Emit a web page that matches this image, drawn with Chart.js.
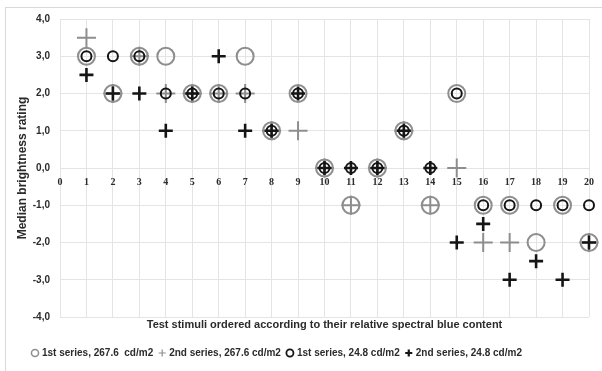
<!DOCTYPE html>
<html>
<head>
<meta charset="utf-8">
<script src="https://cdn.jsdelivr.net/npm/chart.js@4/dist/chart.umd.min.js"></script>
<style>
  html, body { margin: 0; padding: 0; background: #fff; }
  #wrap { width: 602px; height: 371px; position: relative; }
</style>
</head>
<body>
<div id="wrap"><canvas id="c"></canvas></div>
<script>
// Test stimuli, ordered by relative spectral blue content
const stimuli = [1, 2, 3, 4, 5, 6, 7, 8, 9, 10, 11, 12, 13, 14, 15, 16, 17, 18, 19, 20];

// Median brightness ratings per series
const firstSeriesHigh  = [3, 2, 3, 3, 2, 2, 3, 1, 2, 0, -1, 0, 1, -1, 2, -1, -1, -2, -1, -2];        // 267.6 cd/m2
const secondSeriesHigh = [3.5, 2, 3, 2, 2, 2, 2, 1, 1, 0, -1, 0, 1, -1, 0, -2, -2, null, null, -2];  // 267.6 cd/m2
const firstSeriesLow   = [3, 3, 3, 2, 2, 2, 2, 1, 2, 0, 0, 0, 1, 0, 2, -1, -1, -1, -1, -1];          // 24.8 cd/m2
const secondSeriesLow  = [2.5, 2, 2, 1, 2, 3, 1, 1, 2, 0, 0, 0, 1, 0, -2, -1.5, -3, -2.5, -3, -2];   // 24.8 cd/m2

const seriesLabels = [
  '1st series, 267.6  cd/m2',
  '2nd series, 267.6 cd/m2',
  '1st series, 24.8 cd/m2',
  '2nd series, 24.8 cd/m2'
];

const yTicks = [-4, -3, -2, -1, 0, 1, 2, 3, 4];

const GRAY = '#8e8e8e';
const DARK = '#151515';
const GRID = '#e4e4e4';
const TEXT = '#2b2b2b';

const toPoints = vals => stimuli.map((x, i) => ({ x: x, y: vals[i] }));

function marker(label, vals, style, color, radius, width, order) {
  return {
    label: label,
    data: toPoints(vals),
    pointStyle: style,
    pointRadius: radius,
    pointHoverRadius: radius,
    pointBorderWidth: width,
    pointHoverBorderWidth: width,
    borderWidth: width,
    borderColor: color,
    pointBorderColor: color,
    backgroundColor: 'rgba(0,0,0,0)',
    pointBackgroundColor: 'rgba(0,0,0,0)',
    showLine: false,
    clip: false,
    order: order
  };
}

// legend marker stroke widths, one per dataset
const legendStroke = [1.5, 1.2, 1.8, 2.2];

// thin frame around the whole chart
const frame = {
  id: 'frame',
  beforeDraw(chart) {
    const ctx = chart.ctx;
    ctx.save();
    ctx.strokeStyle = '#d9d9d9';
    ctx.lineWidth = 1;
    ctx.strokeRect(5.5, 7.5, chart.width + 10, chart.height + 10);
    ctx.restore();
  }
};

// move the legend row right of the default start position
const legendShift = {
  id: 'legendShift',
  afterLayout(chart) {
    if (chart.legend) {
      chart.legend.left += 21;
      chart.legend.right += 21;
    }
  }
};

new Chart(document.getElementById('c'), {
  type: 'scatter',
  data: {
    datasets: [
      marker(seriesLabels[0], firstSeriesHigh, 'circle', GRAY, 8.5, 2, 4),
      marker(seriesLabels[1], secondSeriesHigh, 'cross', GRAY, 9.5, 2, 3),
      marker(seriesLabels[2], firstSeriesLow, 'circle', DARK, 5, 2, 2),
      marker(seriesLabels[3], secondSeriesLow, 'cross', DARK, 7, 2.6, 1)
    ]
  },
  options: {
    responsive: true,
    maintainAspectRatio: false,
    animation: false,
    events: [],
    layout: { padding: { left: 5, right: 5, top: 19, bottom: 3 } },
    scales: {
      x: {
        type: 'linear',
        min: 0,
        max: 20,
        position: { y: 0 },
        border: { display: false },
        grid: { color: GRID, lineWidth: 1, drawTicks: false },
        ticks: {
          stepSize: 1,
          padding: 8,
          color: TEXT,
          font: { family: "'Liberation Serif', serif", size: 10, weight: 'bold' }
        }
      },
      xTitle: {
        type: 'linear',
        position: 'bottom',
        display: true,
        grid: { display: false, drawTicks: false },
        border: { display: false },
        ticks: { display: false },
        afterFit(scale) { scale.height = 24; },
        title: {
          display: true,
          text: 'Test stimuli ordered according to their relative spectral blue content',
          color: TEXT,
          padding: { top: 0, bottom: 9 },
          font: { family: "'Liberation Sans', sans-serif", size: 11, weight: 'bold' }
        }
      },
      y: {
        type: 'linear',
        min: -4,
        max: 4,
        afterBuildTicks(scale) { scale.ticks = yTicks.map(v => ({ value: v })); },
        afterFit(scale) { scale.width = 55; },
        border: { display: false },
        grid: { color: GRID, lineWidth: 1, drawTicks: false },
        ticks: {
          padding: 10,
          color: TEXT,
          font: { family: "'Liberation Sans', sans-serif", size: 10, weight: 'bold' },
          callback: v => Number(v).toFixed(1).replace('.', ',')
        },
        title: {
          display: true,
          text: 'Median brightness rating',
          color: TEXT,
          padding: { top: 10, bottom: 0 },
          font: { family: "'Liberation Sans', sans-serif", size: 12, weight: 'bold' }
        }
      }
    },
    plugins: {
      tooltip: { enabled: false },
      legend: {
        position: 'bottom',
        align: 'start',
        labels: {
          usePointStyle: true,
          boxWidth: 4,
          boxHeight: 5,
          padding: 7,
          color: TEXT,
          font: { family: "'Liberation Sans', sans-serif", size: 10, weight: 'bold' },
          generateLabels(chart) {
            const items = Chart.defaults.plugins.legend.labels.generateLabels(chart);
            items.sort((a, b) => a.datasetIndex - b.datasetIndex);
            items.forEach(it => { it.lineWidth = legendStroke[it.datasetIndex]; });
            return items;
          }
        }
      }
    }
  },
  plugins: [frame, legendShift]
});
</script>
</body>
</html>
